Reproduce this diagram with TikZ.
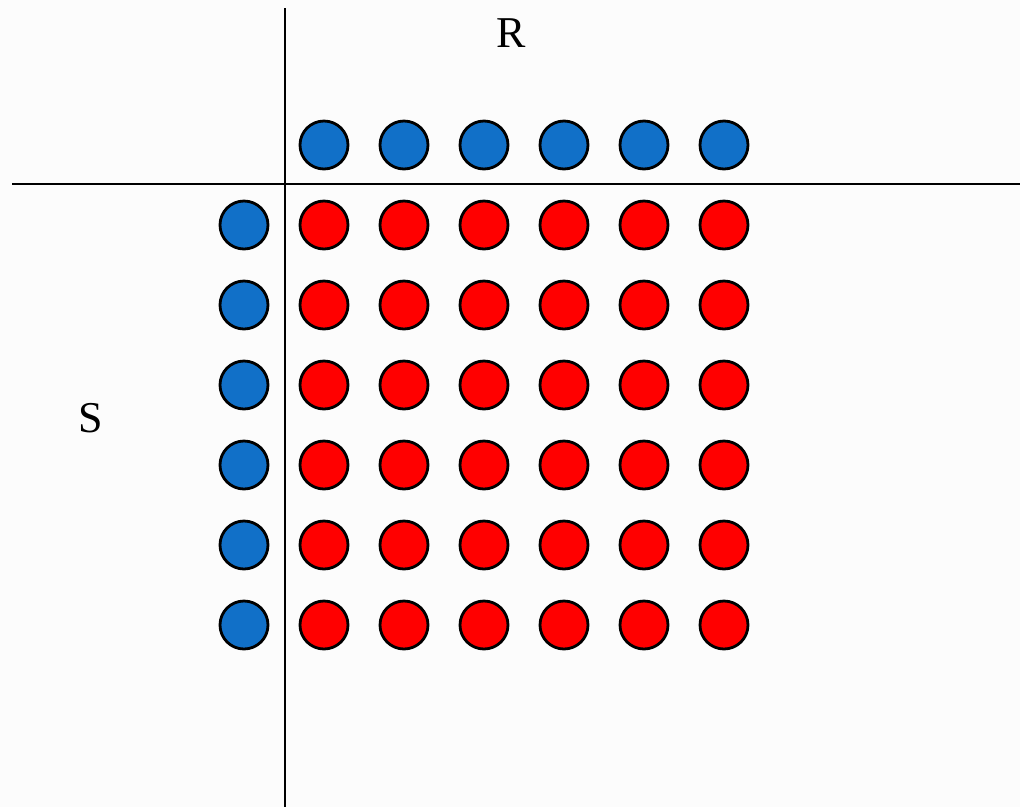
\documentclass[tikz,border=0pt]{standalone}
\usepackage{fontspec}
\setmainfont{Liberation Serif}
\definecolor{dotblue}{HTML}{1170C8}
\definecolor{dotred}{HTML}{FF0000}
\definecolor{bgc}{HTML}{FCFCFC}
\begin{document}
\begin{tikzpicture}[x=1pt,y=-1pt,
  axis/.style={line width=2pt,black},
  bdot/.style={circle,draw=black,line width=2.8pt,fill=dotblue,minimum size=48pt,inner sep=0pt},
  rdot/.style={circle,draw=black,line width=2.8pt,fill=dotred,minimum size=48pt,inner sep=0pt},
  lbl/.style={font=\fontsize{44}{50}\selectfont,inner sep=0pt}]
\fill[bgc] (0,0) rectangle (1020,807);
\useasboundingbox (0,0) rectangle (1020,807);
\coordinate (vt) at (285,8);
\coordinate (vb) at (285,807);
\coordinate (hl) at (12,184);
\coordinate (hr) at (1020,184);
\draw[axis] (vt) -- (vb);
\draw[axis] (hl) -- (hr);
\node[lbl] (R) at (511,33) {R};
\node[lbl] (S) at (91,418) {S};
\foreach \i in {0,...,5}{
  \node[bdot] (t\i) at (324+80*\i,145) {};
  \node[bdot] (l\i) at (244,225+80*\i) {};
  \foreach \j in {0,...,5}{
    \node[rdot] (r\i\j) at (324+80*\j,225+80*\i) {};
  }
}
\end{tikzpicture}
\end{document}
